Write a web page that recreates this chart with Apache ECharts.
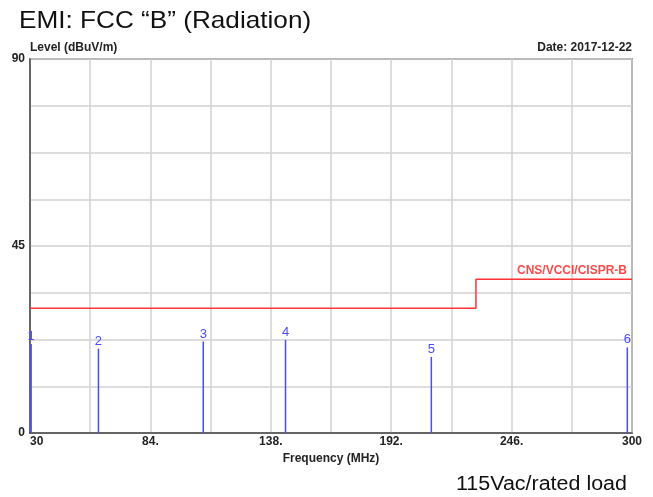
<!DOCTYPE html>
<html>
<head>
<meta charset="utf-8">
<script src="https://cdn.jsdelivr.net/npm/echarts@6/dist/echarts.min.js"></script>
<style>
html,body{margin:0;padding:0;background:#fff;}
#main{width:653px;height:497px;}
</style>
</head>
<body>
<div id="main"></div>
<script>
// Data
const markerNames = ['1','2','3','4','5','6'];
const markerFreq = [30.5, 60.7, 107.7, 144.6, 210.0, 297.9];
const markerLevel = [21.4, 20.3, 22.0, 22.4, 18.3, 20.6];
const limitFreq = [30, 230, 230, 300];
const limitLevel = [30, 30, 37, 37];
const limitName = 'CNS/VCCI/CISPR-B';
const xTickLabels = {30:'30', 84:'84.', 138:'138.', 192:'192.', 246:'246.', 300:'300'};
const yTickLabels = {0:'0', 45:'45', 90:'90'};

const FONT = '"Liberation Sans", Arial, sans-serif';
const chart = echarts.init(document.getElementById('main'), null, {renderer:'canvas'});

const limitData = limitFreq.map((f,i)=>[f, limitLevel[i]]);
const limitLabelData = [[limitFreq[limitFreq.length-1], limitLevel[limitLevel.length-1]]];
const markerData = markerFreq.map((f,i)=>[f, markerLevel[i], markerNames[i]]);

chart.setOption({
  animation:false,
  backgroundColor:'#fff',
  grid:{left:30, right:21, top:59, bottom:64, show:true, borderColor:'#4a4a4a', borderWidth:1.5, backgroundColor:'transparent'},
  graphic:[
    {type:'text', x:19, y:21.4, scaleX:1.09, style:{text:'EMI: FCC \u201cB\u201d (Radiation)', font:'24px '+FONT, fill:'#111', verticalAlign:'middle'}},
    {type:'text', x:30, y:47.5, style:{text:'Level (dBuV/m)', font:'bold 12px '+FONT, fill:'#222', verticalAlign:'middle'}},
    {type:'text', x:632, y:47.5, style:{text:'Date: 2017-12-22', font:'bold 12px '+FONT, fill:'#222', align:'right', verticalAlign:'middle'}},
    {type:'text', x:456, y:484.7, scaleX:1.1, style:{text:'115Vac/rated load', font:'19.5px '+FONT, fill:'#111', verticalAlign:'middle'}}
  ],
  xAxis:{
    type:'value', min:30, max:300, interval:27,
    name:'Frequency (MHz)', nameLocation:'middle', nameGap:18,
    nameTextStyle:{fontWeight:'bold', fontSize:12, color:'#222', fontFamily:FONT},
    axisLine:{show:true, lineStyle:{color:'#4a4a4a', width:1.5}},
    axisTick:{show:false},
    axisLabel:{margin:3, fontWeight:'bold', fontSize:12, color:'#222', fontFamily:FONT,
      formatter:v=> (xTickLabels[Math.round(v)] !== undefined ? xTickLabels[Math.round(v)] : ''),
      align:'center', alignMinLabel:'left', alignMaxLabel:'center'},
    splitLine:{show:true, lineStyle:{color:'#d2d2d2', width:1.5}}
  },
  yAxis:{
    type:'value', min:0, max:90, interval:11.25,
    axisLine:{show:true, lineStyle:{color:'#4a4a4a', width:1.5}},
    axisTick:{show:false},
    axisLabel:{margin:5, fontWeight:'bold', fontSize:12, color:'#222', fontFamily:FONT,
      formatter:v=>{const r=Math.round(v*100)/100; return yTickLabels[r]!==undefined?yTickLabels[r]:'';}},
    splitLine:{show:true, lineStyle:{color:'#d2d2d2', width:1.5}}
  },
  series:[
    {
      type:'line', data:limitData, symbol:'none', silent:true,
      lineStyle:{color:'#ff3333', width:1.5}, z:3
    },
    {
      type:'scatter', data:limitLabelData, symbolSize:0, silent:true, z:5,
      label:{show:true, position:'top', align:'right', offset:[-5,2], formatter:limitName,
        color:'#ff1a1a', fontWeight:'bold', fontSize:12, fontFamily:FONT}
    },
    {
      type:'custom', data:markerData, z:4, silent:true,
      renderItem:(params, api)=>{
        const p0 = api.coord([api.value(0), 0]);
        const p1 = api.coord([api.value(0), api.value(1)]);
        return {type:'group', children:[
          {type:'line', shape:{x1:p0[0], y1:p0[1], x2:p1[0], y2:p1[1]}, style:{stroke:'#4a4aff', lineWidth:1.5}},
          {type:'text', style:{text:markerData[params.dataIndex][2], x:p1[0], y:p1[1]-1, align:'center', verticalAlign:'bottom',
            font:'13px '+FONT, fill:'#4a4aff'}}
        ]};
      }
    }
  ]
});
</script>
</body>
</html>
